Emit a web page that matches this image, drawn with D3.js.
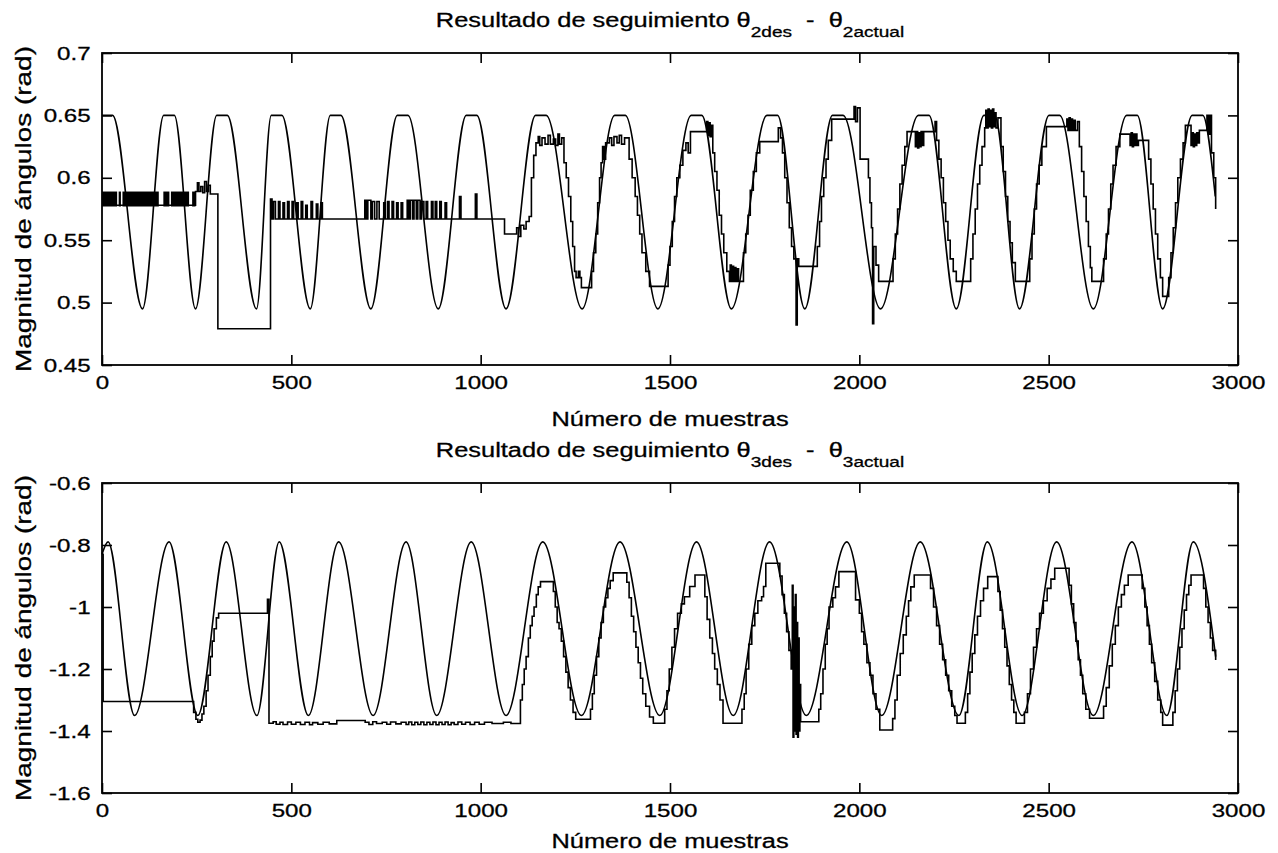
<!DOCTYPE html>
<html>
<head>
<meta charset="utf-8">
<script src="https://cdn.jsdelivr.net/npm/d3@7"></script>
<style>
  body { margin: 0; background: #fff; }
  svg text { font-family: "Liberation Sans", Arial, sans-serif; fill: #000; stroke: #000; stroke-width: 0.3px; }
</style>
</head>
<body>
<div id="plot"></div>
<script>
// joint 2: desired trajectory, [sample, rad]
var theta2Des = [
  [0,0.65],[28,0.65],[107,0.495],[163,0.65],[191,0.65],[247,0.495],[303,0.65],[331,0.65],
  [408,0.495],[447,0.65],[475,0.65],[550,0.495],[603,0.65],[631,0.65],[710,0.495],
  [780,0.65],[808,0.65],[888,0.495],[962,0.65],[990,0.65],[1067,0.495],[1145,0.65],[1173,0.65],
  [1268,0.495],[1354,0.65],[1382,0.65],[1468,0.495],[1556,0.65],[1584,0.65],[1662,0.495],
  [1756,0.65],[1784,0.65],[1856,0.495],[1929,0.65],[1957,0.65],[2056,0.495],[2156,0.65],[2184,0.65],
  [2256,0.495],[2329,0.65],[2357,0.65],[2423,0.495],[2501,0.65],[2529,0.65],[2618,0.495],
  [2706,0.65],[2734,0.65],[2801,0.495],[2879,0.65],[2907,0.65],[2940,0.585]
];

// joint 2: measured angle (held between samples)
var theta2Act = [
  [0,0.578],[247,0.589],[252,0.596],[256,0.589],[261,0.593],[266,0.588],[271,0.597],[276,0.589],
  [281,0.594],[286,0.587],[306,0.479],[445,0.583],
  [449,0.567],[453,0.581],[458,0.567],[466,0.581],[470,0.567],[478,0.58],[482,0.567],[490,0.581],
  [494,0.567],[502,0.581],[506,0.567],[514,0.58],[518,0.567],[526,0.581],[530,0.567],[538,0.578],
  [542,0.567],[552,0.581],[556,0.567],[566,0.579],[570,0.567],[578,0.58],[582,0.567],
  [694,0.582],[698,0.567],[702,0.582],[710,0.567],[714,0.581],[720,0.567],[726,0.581],[732,0.567],
  [744,0.58],[748,0.567],[754,0.581],[758,0.567],[766,0.581],[770,0.567],[778,0.58],[782,0.567],
  [790,0.58],[794,0.567],[806,0.582],[810,0.567],[814,0.582],[820,0.567],[824,0.582],[830,0.567],
  [834,0.582],[840,0.567],[844,0.581],[850,0.567],[856,0.581],[860,0.567],[870,0.581],[874,0.567],
  [880,0.581],[884,0.567],[892,0.581],[896,0.567],[906,0.58],[910,0.567],[944,0.585],[948,0.567],
  [986,0.587],[990,0.567],
  [1063,0.555],[1095,0.56],[1100,0.553],[1106,0.562],[1114,0.559],[1120,0.565],[1128,0.569],
  [1134,0.6],[1140,0.618],[1146,0.628],[1152,0.633],[1156,0.626],[1162,0.632],[1170,0.627],
  [1178,0.634],[1184,0.627],[1192,0.631],[1198,0.626],[1204,0.635],[1208,0.627],[1214,0.632],
  [1220,0.612],[1226,0.6],[1232,0.585],[1238,0.565],[1243,0.545],[1248,0.525],[1252,0.52],
  [1258,0.525],[1262,0.52],[1266,0.512],
  [1293,0.525],[1298,0.54],[1304,0.555],[1309,0.58],[1314,0.6],[1318,0.612],[1322,0.625],
  [1326,0.615],[1330,0.628],[1340,0.632],[1346,0.626],[1352,0.633],[1360,0.628],[1366,0.634],
  [1372,0.627],[1380,0.632],
  [1392,0.615],[1400,0.6],[1408,0.585],[1414,0.57],[1420,0.555],[1426,0.54],[1436,0.525],[1446,0.513],
  [1495,0.53],[1500,0.545],[1506,0.565],[1512,0.585],[1518,0.6],[1526,0.61],[1534,0.622],
  [1542,0.628],[1548,0.62],[1554,0.637],
  [1597,0.645],[1600,0.634],[1603,0.644],[1606,0.633],[1609,0.642],[1613,0.62],
  [1618,0.605],[1624,0.59],[1630,0.57],[1636,0.555],[1642,0.54],[1650,0.525],[1657,0.517],
  [1659,0.53],[1662,0.517],[1665,0.529],[1668,0.517],[1671,0.528],[1674,0.517],[1678,0.527],[1681,0.517],
  [1694,0.54],[1700,0.555],[1706,0.57],[1712,0.59],[1720,0.605],[1728,0.62],[1737,0.629],
  [1786,0.64],[1792,0.632],[1797,0.62],
  [1803,0.6],[1809,0.58],[1815,0.56],[1821,0.545],[1827,0.535],[1833,0.482],[1836,0.535],[1840,0.529],
  [1889,0.545],[1895,0.565],[1900,0.585],[1906,0.6],[1912,0.615],[1918,0.63],[1927,0.647],
  [1986,0.657],[1990,0.645],[1995,0.656],[2002,0.615],
  [2024,0.6],[2028,0.58],[2032,0.56],[2035,0.483],[2038,0.545],[2044,0.53],[2051,0.517],
  [2089,0.535],[2095,0.555],[2101,0.575],[2107,0.595],[2113,0.61],[2120,0.625],[2126,0.637],
  [2148,0.625],[2151,0.637],[2154,0.624],[2157,0.636],[2160,0.625],[2163,0.637],[2166,0.626],
  [2170,0.637],[2200,0.645],[2204,0.63],
  [2210,0.615],[2216,0.6],[2222,0.58],[2228,0.565],[2234,0.55],[2240,0.535],[2248,0.525],[2256,0.517],
  [2294,0.535],[2300,0.555],[2306,0.575],[2312,0.595],[2318,0.61],[2324,0.625],[2331,0.64],
  [2334,0.654],[2337,0.64],[2340,0.655],[2343,0.641],[2346,0.654],[2349,0.64],[2352,0.655],
  [2355,0.641],[2358,0.652],[2361,0.64],[2366,0.648],[2374,0.625],
  [2380,0.605],[2386,0.585],[2392,0.565],[2398,0.548],[2404,0.532],[2412,0.517],
  [2450,0.535],[2456,0.555],[2462,0.575],[2468,0.595],[2475,0.61],[2482,0.625],[2494,0.641],
  [2548,0.647],[2551,0.638],[2554,0.648],[2557,0.638],[2560,0.647],[2563,0.638],[2566,0.646],
  [2570,0.638],[2576,0.645],[2581,0.625],
  [2587,0.605],[2593,0.585],[2599,0.565],[2605,0.545],[2610,0.528],[2614,0.517],
  [2645,0.535],[2652,0.555],[2658,0.575],[2664,0.595],[2670,0.61],[2678,0.625],[2688,0.635],
  [2715,0.626],[2718,0.636],[2721,0.625],[2724,0.635],[2727,0.626],[2730,0.635],[2733,0.626],
  [2737,0.63],[2764,0.615],
  [2770,0.595],[2776,0.575],[2782,0.555],[2788,0.535],[2795,0.52],[2801,0.505],
  [2817,0.52],[2823,0.54],[2829,0.56],[2835,0.58],[2841,0.6],[2848,0.615],[2855,0.628],[2861,0.642],
  [2876,0.626],[2879,0.636],[2882,0.625],[2885,0.635],[2888,0.626],[2891,0.636],[2894,0.628],
  [2898,0.638],[2918,0.65],[2922,0.635],[2926,0.65],[2930,0.62],[2936,0.6],[2941,0.575]
];

// dense chatter of joint 2 at start-up: [from, to, low, high]
var theta2Chatter = [
  [0,40,0.577,0.589],[44,50,0.577,0.589],[54,150,0.577,0.589],
  [162,178,0.577,0.589],[182,230,0.577,0.589],[238,247,0.577,0.589]
];

// joint 3: desired trajectory
var theta3Des = [
  [0,-0.83],[16,-0.79],[86,-1.35],[177,-0.79],[253,-1.35],[328,-0.79],[409,-1.35],[468,-0.79],
  [545,-1.35],[625,-0.79],[716,-1.35],[803,-0.79],[884,-1.35],[975,-0.79],[1067,-1.35],
  [1164,-0.79],[1266,-1.35],[1368,-0.79],[1473,-1.35],[1570,-0.79],[1667,-1.35],[1763,-0.79],
  [1860,-1.35],[1967,-0.79],[2059,-1.35],[2161,-0.79],[2263,-1.35],[2338,-0.79],[2430,-1.35],
  [2521,-0.79],[2618,-1.35],[2720,-0.79],[2812,-1.35],[2882,-0.79],[2941,-1.16]
];

// joint 3: measured angle
var theta3Act = [
  [0,-0.83],[3,-1.305],[242,-1.34],[248,-1.362],[253,-1.372],[259,-1.365],[264,-1.345],[269,-1.32],
  [275,-1.27],[280,-1.22],[286,-1.16],[291,-1.11],[296,-1.07],[302,-1.035],[308,-1.02],
  [437,-0.975],[441,-1.375],
  [452,-1.37],[460,-1.378],[470,-1.372],[478,-1.379],[490,-1.371],[500,-1.378],[512,-1.372],
  [524,-1.379],[536,-1.372],[548,-1.38],[556,-1.373],[570,-1.378],[584,-1.372],[600,-1.377],
  [620,-1.366],[695,-1.372],[705,-1.379],[715,-1.37],[725,-1.376],[740,-1.372],[752,-1.378],
  [762,-1.371],[776,-1.377],[790,-1.372],[803,-1.379],[810,-1.371],[818,-1.38],[826,-1.372],
  [834,-1.379],[842,-1.371],[850,-1.38],[858,-1.372],[866,-1.379],[874,-1.371],[882,-1.38],
  [890,-1.372],[898,-1.379],[906,-1.371],[914,-1.38],[922,-1.373],[930,-1.379],[940,-1.371],
  [950,-1.378],[960,-1.372],[972,-1.379],[984,-1.372],[996,-1.378],[1010,-1.372],[1030,-1.376],
  [1060,-1.372],[1080,-1.376],
  [1105,-1.3],[1110,-1.25],[1115,-1.2],[1120,-1.16],[1126,-1.1],[1131,-1.06],[1136,-1.03],
  [1141,-1.0],[1147,-0.96],[1152,-0.935],[1158,-0.918],
  [1192,-0.95],[1197,-1.0],[1202,-1.05],[1207,-1.07],[1213,-1.11],[1219,-1.16],[1225,-1.21],
  [1231,-1.26],[1237,-1.3],[1244,-1.34],[1251,-1.362],
  [1290,-1.33],[1295,-1.28],[1300,-1.22],[1306,-1.16],[1312,-1.1],[1318,-1.05],[1324,-1.0],
  [1330,-0.97],[1336,-0.94],[1342,-0.915],[1350,-0.89],
  [1386,-0.92],[1392,-0.97],[1398,-1.03],[1404,-1.08],[1410,-1.13],[1416,-1.18],[1422,-1.23],
  [1428,-1.28],[1436,-1.32],[1446,-1.355],[1456,-1.375],
  [1486,-1.33],[1492,-1.27],[1498,-1.2],[1505,-1.13],[1512,-1.07],[1520,-1.02],[1530,-0.99],
  [1538,-0.967],[1552,-0.934],[1566,-0.897],
  [1592,-0.967],[1598,-1.04],[1605,-1.1],[1612,-1.15],[1618,-1.2],[1625,-1.25],[1632,-1.3],[1640,-1.375],
  [1690,-1.33],[1696,-1.28],[1701,-1.2],[1708,-1.12],[1716,-1.06],[1724,-1.02],[1732,-0.98],
  [1742,-0.967],[1747,-0.934],[1753,-0.859],
  [1790,-0.9],[1796,-0.96],[1802,-1.02],[1808,-1.08],[1814,-1.14],[1820,-1.2],
  [1823,-0.93],[1825,-1.42],[1827,-1.0],[1829,-1.4],[1831,-0.96],[1833,-1.41],[1835,-1.05],
  [1837,-1.42],[1839,-1.1],[1841,-1.4],[1843,-1.25],[1845,-1.37],
  [1893,-1.33],[1898,-1.28],[1904,-1.2],[1910,-1.12],[1915,-1.07],[1920,-1.0],[1930,-0.97],
  [1937,-0.935],[1946,-0.886],
  [1990,-0.977],[2000,-1.02],[2006,-1.08],[2012,-1.12],[2020,-1.18],[2028,-1.22],[2036,-1.28],
  [2044,-1.33],[2054,-1.397],
  [2088,-1.36],[2094,-1.3],[2100,-1.22],[2108,-1.15],[2116,-1.09],[2124,-1.03],[2130,-0.98],
  [2136,-0.935],[2145,-0.897],
  [2188,-0.94],[2196,-1.0],[2204,-1.06],[2212,-1.12],[2220,-1.17],[2228,-1.22],[2236,-1.27],
  [2244,-1.32],[2252,-1.35],[2258,-1.375],
  [2280,-1.34],[2286,-1.28],[2292,-1.21],[2298,-1.15],[2305,-1.09],[2312,-1.03],[2320,-0.98],
  [2328,-0.94],[2339,-0.902],
  [2366,-0.95],[2372,-1.01],[2378,-1.07],[2384,-1.13],[2390,-1.19],[2396,-1.25],[2402,-1.3],
  [2408,-1.34],[2414,-1.375],
  [2436,-1.34],[2444,-1.28],[2452,-1.2],[2460,-1.13],[2468,-1.07],[2476,-1.02],[2486,-0.98],
  [2496,-0.94],[2506,-0.91],[2516,-0.875],
  [2554,-0.93],[2560,-0.99],[2566,-1.05],[2572,-1.11],[2578,-1.17],[2584,-1.22],[2590,-1.28],
  [2598,-1.33],[2608,-1.359],
  [2645,-1.32],[2652,-1.26],[2660,-1.19],[2668,-1.12],[2676,-1.06],[2684,-1.0],[2692,-0.96],
  [2700,-0.93],[2710,-0.897],
  [2747,-0.94],[2754,-1.0],[2760,-1.06],[2766,-1.12],[2772,-1.18],[2780,-1.24],[2788,-1.3],
  [2796,-1.34],[2801,-1.381],
  [2828,-1.34],[2834,-1.27],[2840,-1.2],[2846,-1.13],[2852,-1.07],[2858,-1.01],[2864,-0.96],
  [2870,-0.93],[2876,-0.897],
  [2909,-0.94],[2915,-1.0],[2921,-1.05],[2927,-1.1],[2933,-1.14],[2941,-1.171]
];

var xTicks = [0, 500, 1000, 1500, 2000, 2500, 3000];
var yTicks2 = [0.45, 0.5, 0.55, 0.6, 0.65, 0.7];
var yTicks3 = [-1.6, -1.4, -1.2, -1, -0.8, -0.6];

var W = 1278, H = 853;
var svg = d3.select("#plot").append("svg")
  .attr("width", W)
  .attr("height", H)
  .style("display", "block")
  .style("background", "#fff");

// the printed labels are set in a wide face: stretch glyphs along the baseline
var WIDE = 1.27;

function label(parent, x, y, size, txt, rot) {
  var g = parent.append("g")
    .attr("transform", "translate(" + x + "," + y + ")" + (rot ? " rotate(" + rot + ")" : "") + " scale(" + WIDE + ",1)");
  return g.append("text")
    .attr("text-anchor", "middle")
    .style("font-size", size + "px")
    .text(txt);
}

function drawPanel(opt) {
  var left = 102, right = 1238;
  var x = d3.scaleLinear().domain([0, 3000]).range([left, right]);
  var y = d3.scaleLinear().domain(opt.yDomain).range([opt.bottom, opt.top]);
  var g = svg.append("g");
  var tick = 10;

  // box
  g.append("rect")
    .attr("x", left).attr("y", opt.top)
    .attr("width", right - left).attr("height", opt.bottom - opt.top)
    .attr("fill", "none").attr("stroke", "#000").attr("stroke-width", 1.8);

  // ticks inside on every side, labels on left/bottom only
  var ax = [
    d3.axisBottom(x).tickValues(xTicks).tickSize(-tick).tickPadding(11).tickFormat(d => String(d)),
    d3.axisTop(x).tickValues(xTicks).tickSize(-tick).tickFormat(""),
    d3.axisLeft(y).tickValues(opt.yTicks).tickSize(-tick).tickPadding(9).tickFormat(d => String(d)),
    d3.axisRight(y).tickValues(opt.yTicks).tickSize(-tick).tickFormat("")
  ];
  var pos = ["translate(0," + opt.bottom + ")", "translate(0," + opt.top + ")",
             "translate(" + left + ",0)", "translate(" + right + ",0)"];
  ax.forEach(function(a, i) {
    var ag = g.append("g").attr("transform", pos[i]).call(a.tickSizeOuter(0));
    ag.select(".domain").remove();
    ag.attr("font-family", null).attr("font-size", null);
    ag.selectAll(".tick line").attr("stroke", "#000").attr("stroke-width", 1.6);
    ag.selectAll(".tick text")
      .attr("fill", "#000")
      .attr("transform", "scale(" + WIDE + ",1)")
      .style("font-size", "19px");
  });

  var plot = g.append("g");

  // chatter bands
  plot.selectAll("rect.band")
    .data(opt.chatter)
    .enter().append("rect")
      .attr("class", "band")
      .attr("x", d => x(d[0]))
      .attr("width", d => x(d[1]) - x(d[0]))
      .attr("y", d => y(d[3]))
      .attr("height", d => y(d[2]) - y(d[3]))
      .attr("fill", "#000");

  var desLine = d3.line().x(d => x(d[0])).y(d => y(d[1])).curve(d3.curveMonotoneX);
  var actLine = d3.line().x(d => x(d[0])).y(d => y(d[1])).curve(d3.curveStepAfter);

  plot.append("path")
    .datum(opt.des)
    .attr("d", desLine)
    .attr("fill", "none").attr("stroke", "#000").attr("stroke-width", 1.6);

  plot.append("path")
    .datum(opt.act)
    .attr("d", actLine)
    .attr("fill", "none").attr("stroke", "#000").attr("stroke-width", 1.6);

  // title with subscripts
  var t = label(g, (left + right) / 2, opt.top - 26, 20, null);
  t.append("tspan").text("Resultado de seguimiento \u03b8");
  t.append("tspan").attr("dy", 10).style("font-size", "15px").text(opt.sub + "des");
  t.append("tspan").attr("dy", -10).text("\u00a0\u00a0-\u00a0\u00a0\u03b8");
  t.append("tspan").attr("dy", 10).style("font-size", "15px").text(opt.sub + "actual");

  label(g, (left + right) / 2, opt.xLabelY, 20, "Número de muestras");
  label(g, 31, (opt.top + opt.bottom) / 2, 22, "Magnitud de ángulos (rad)", -90);
}

drawPanel({
  top: 53, bottom: 365, yDomain: [0.45, 0.7], yTicks: yTicks2, xLabelY: 426,
  des: theta2Des, act: theta2Act, chatter: theta2Chatter, sub: "2"
});

drawPanel({
  top: 483, bottom: 793, yDomain: [-1.6, -0.6], yTicks: yTicks3, xLabelY: 848,
  des: theta3Des, act: theta3Act, chatter: [], sub: "3"
});
</script>
</body>
</html>
